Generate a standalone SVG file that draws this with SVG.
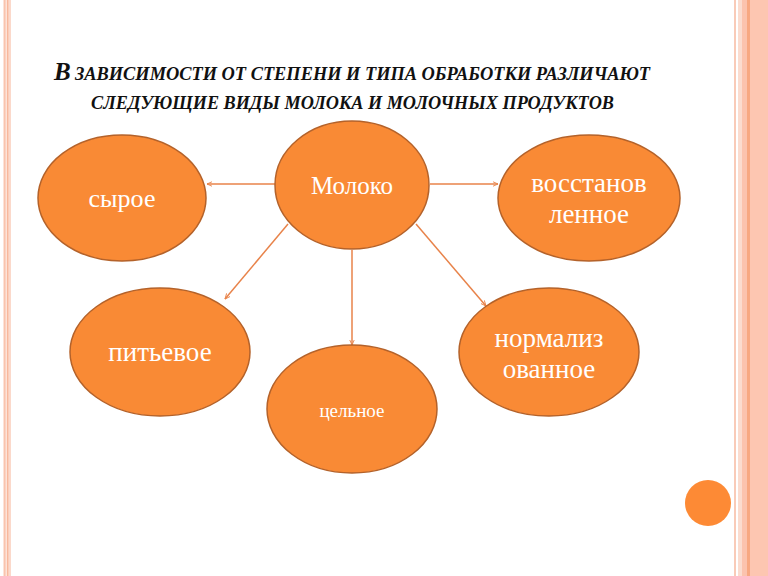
<svg xmlns="http://www.w3.org/2000/svg" width="768" height="576" viewBox="0 0 768 576">
  <defs>
    <style>
      .node { fill: #F98A35; stroke: #B4622A; stroke-width: 1.5; }
      .lbl { fill: #FFFFFF; text-anchor: middle; }
      .conn { stroke: #E8834A; stroke-width: 1.5; fill: none; marker-end: url(#arr); }
      .title { fill: #111111; }
    </style>
    <marker id="arr" viewBox="0 0 10 10" refX="9" refY="5" markerWidth="6" markerHeight="6" orient="auto" markerUnits="userSpaceOnUse">
      <path d="M0,1 L9,5 L0,9" fill="none" stroke="#E8834A" stroke-width="1.5"/>
    </marker>
  </defs>
  <rect x="0" y="0" width="768" height="576" fill="#FFFFFF"/>
  <g id="border-left">
    <rect x="3" y="0" width="8" height="576" fill="#FDE3D8"/>
    <rect x="4" y="0" width="1.5" height="576" fill="#F9C4AE"/>
    <rect x="7" y="0" width="1.5" height="576" fill="#F8B89C"/>
    <rect x="9.5" y="0" width="1" height="576" fill="#FAD0BE"/>
  </g>
  <g id="border-right">
    <rect x="734" y="0" width="2" height="576" fill="#F9CBB8"/>
    <rect x="738" y="0" width="4" height="576" fill="#FBDCCF"/>
    <rect x="742" y="0" width="5" height="576" fill="#FBC3AE"/>
    <rect x="747" y="0" width="3" height="576" fill="#F7A882"/>
    <rect x="750" y="0" width="18" height="576" fill="#FDC6B1"/>
  </g>
  <circle id="dot" cx="708" cy="503" r="23" fill="#FD8A35"/>
  <g id="title" font-family="Liberation Serif, DejaVu Serif, serif" font-style="italic" font-weight="bold">
    <text class="title" x="54" y="80" font-size="25">В</text>
    <text class="title" x="75" y="80" font-size="18" textLength="575" lengthAdjust="spacingAndGlyphs">ЗАВИСИМОСТИ ОТ СТЕПЕНИ И ТИПА ОБРАБОТКИ РАЗЛИЧАЮТ</text>
    <text class="title" x="91" y="109" font-size="18" textLength="523" lengthAdjust="spacingAndGlyphs">СЛЕДУЮЩИЕ ВИДЫ МОЛОКА И МОЛОЧНЫХ ПРОДУКТОВ</text>
  </g>
  <g id="connectors">
    <line class="conn" x1="275" y1="184" x2="207" y2="184"/>
    <line class="conn" x1="430" y1="184" x2="498" y2="184"/>
    <line class="conn" x1="288" y1="224" x2="225" y2="299"/>
    <line class="conn" x1="352" y1="250" x2="352" y2="345"/>
    <line class="conn" x1="416" y1="224" x2="486" y2="306"/>
  </g>
  <g font-family="Liberation Serif, DejaVu Serif, serif" font-size="27">
    <g id="moloko">
      <ellipse class="node" cx="352" cy="185" rx="77" ry="64"/>
      <text class="lbl" x="352" y="194" font-size="25">Молоко</text>
    </g>
    <g id="syroe">
      <ellipse class="node" cx="122" cy="198" rx="84" ry="63"/>
      <text class="lbl" x="122" y="207" font-size="26">сырое</text>
    </g>
    <g id="vosstanovlennoe">
      <ellipse class="node" cx="589" cy="198" rx="91" ry="63"/>
      <text class="lbl" x="589" y="192">восстанов</text>
      <text class="lbl" x="589" y="223">ленное</text>
    </g>
    <g id="pitevoe">
      <ellipse class="node" cx="160" cy="352" rx="90" ry="64"/>
      <text class="lbl" x="160" y="361">питьевое</text>
    </g>
    <g id="tselnoe">
      <ellipse class="node" cx="352" cy="409" rx="85" ry="64"/>
      <text class="lbl" x="352" y="417" font-size="19">цельное</text>
    </g>
    <g id="normalizovannoe">
      <ellipse class="node" cx="549" cy="352" rx="90" ry="64"/>
      <text class="lbl" x="549" y="347">нормализ</text>
      <text class="lbl" x="549" y="378">ованное</text>
    </g>
  </g>
</svg>
